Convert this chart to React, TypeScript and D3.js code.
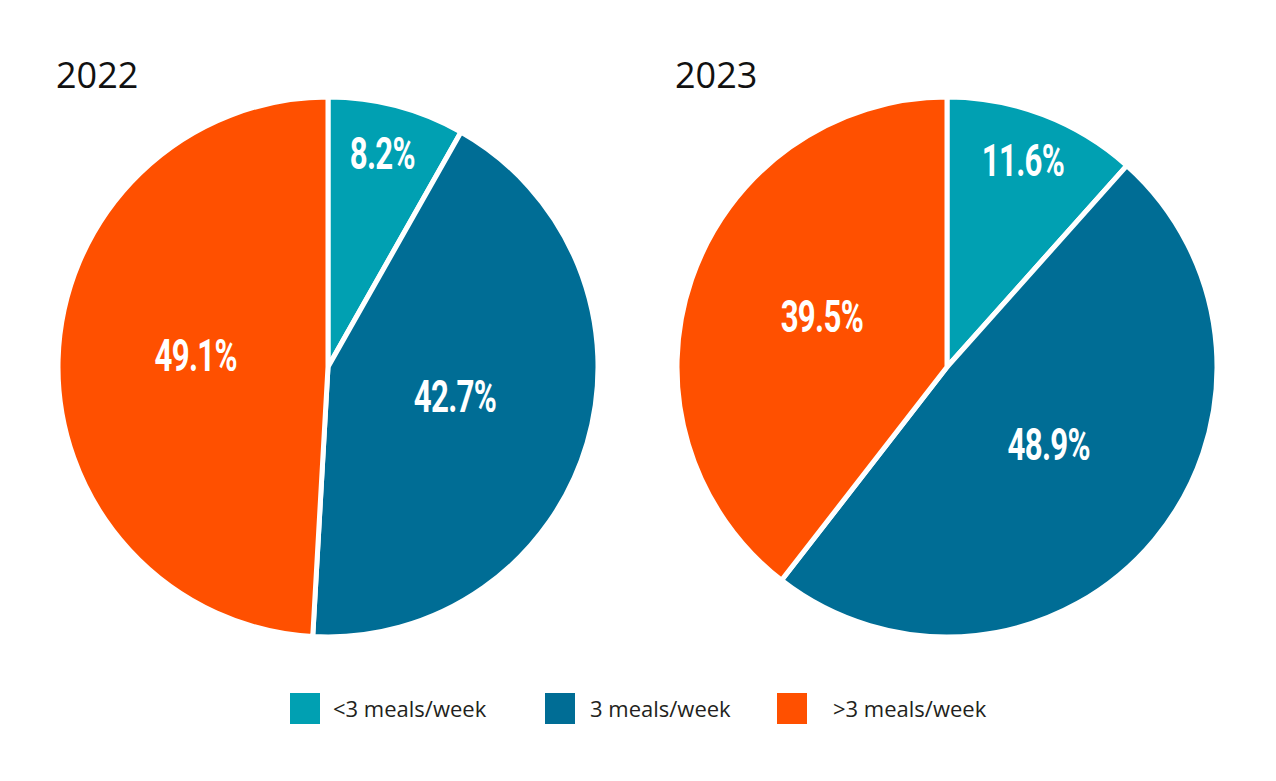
import * as d3 from "d3";
import React from "react";

const categories = ["<3 meals/week", "3 meals/week", ">3 meals/week"];
const years = ["2022", "2023"];
const values2022 = [8.2, 42.7, 49.1];
const values2023 = [11.6, 48.9, 39.5];

const colors = ["#00A0B2", "#006D95", "#FF5000"];

const W = 1276,
  H = 781;
const R = 270;
const cy = 367;
const centers = [328, 947];

const PieChart: React.FC<{ cx: number; title: string; values: number[] }> = ({ cx, title, values }) => {
  const pie = d3.pie<number>().sort(null).value((d) => d);
  const arcs = pie(values);
  const arc = d3.arc<d3.PieArcDatum<number>>().innerRadius(0).outerRadius(R);

  return (
    <g>
      <text x={cx - 272} y={88} fontFamily="'Open Sans', 'Noto Sans', sans-serif" fontSize={36} fill="#111">
        {title}
      </text>
      <g transform={`translate(${cx}, ${cy})`}>
        {arcs.map((a, i) => (
          <path key={i} d={arc(a) as string} fill={colors[i]} stroke="#fff" strokeWidth={5} strokeLinejoin="round" />
        ))}
        {arcs.map((a, i) => {
          // small slices get their label further out
          const rr = a.value < 15 ? 0.79 * R : 0.49 * R;
          const mid = (a.startAngle + a.endAngle) / 2;
          const x = Math.sin(mid) * rr;
          const y = -Math.cos(mid) * rr;
          return (
            <text
              key={"l" + i}
              transform={`translate(${x}, ${y + 8}) scale(0.71, 1)`}
              textAnchor="middle"
              fontFamily="Roboto, sans-serif"
              fontWeight={700}
              fontSize={44}
              letterSpacing={-1}
              fill="#fff"
            >
              {`${a.value.toFixed(1)}%`}
            </text>
          );
        })}
      </g>
    </g>
  );
};

export default function App() {
  const legendX = d3.scaleOrdinal<string, number>().domain(categories).range([290, 545, 777]);
  const textOffset = [43, 45, 56];

  return (
    <svg width={W} height={H} style={{ position: "absolute", left: 0, top: 0, background: "#fff" }}>
      <rect width={W} height={H} fill="#fff" />
      <PieChart cx={centers[0]} title={years[0]} values={values2022} />
      <PieChart cx={centers[1]} title={years[1]} values={values2023} />
      {categories.map((c, i) => (
        <g key={c}>
          <rect x={legendX(c)} y={693} width={30} height={31} fill={colors[i]} />
          <text
            x={(legendX(c) as number) + textOffset[i]}
            y={717}
            fontFamily="'Open Sans', 'Noto Sans', sans-serif"
            fontSize={22}
            fill="#231F20"
          >
            {c}
          </text>
        </g>
      ))}
    </svg>
  );
}
